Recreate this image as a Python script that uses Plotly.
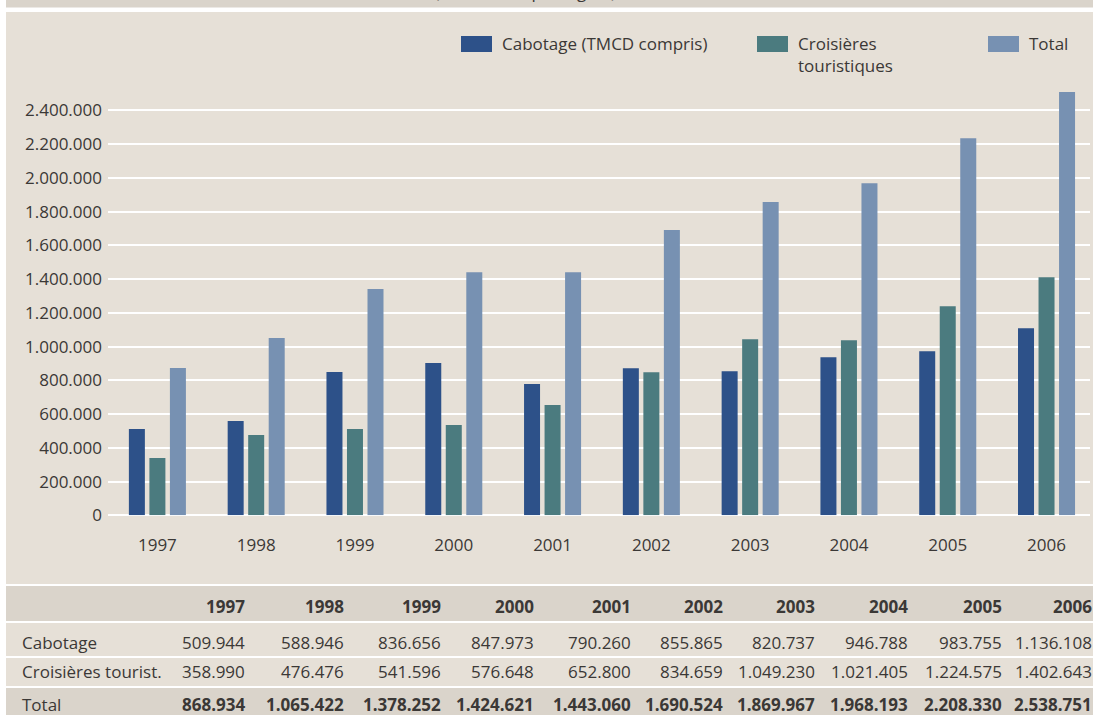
import plotly.graph_objects as go

# --- data -----------------------------------------------------------------
years = ["1997", "1998", "1999", "2000", "2001", "2002", "2003", "2004", "2005", "2006"]

# bar heights as drawn in the chart
cabotage = [511000, 559000, 849000, 902000, 778000, 871000, 854000, 937000, 972000, 1109000]
croisieres = [340000, 476000, 511000, 535000, 654000, 848000, 1043000, 1038000, 1239000, 1411000]
total = [873000, 1050000, 1341000, 1441000, 1441000, 1690000, 1856000, 1968000, 2235000, 2508000]

# values printed in the table
tab_cabotage = [509944, 588946, 836656, 847973, 790260, 855865, 820737, 946788, 983755, 1136108]
tab_croisieres = [358990, 476476, 541596, 576648, 652800, 834659, 1049230, 1021405, 1224575, 1402643]
tab_total = [868934, 1065422, 1378252, 1424621, 1443060, 1690524, 1869967, 1968193, 2208330, 2538751]
row_labels = ["Cabotage", "Croisières tourist.", "Total"]

series_names = ["Cabotage (TMCD compris)", "Croisières<br>touristiques", "Total"]
y_ticks = list(range(0, 2400001, 200000))

# --- style ----------------------------------------------------------------
W, H = 1093, 715
FONT = "Open Sans"
TXT = "#3b3836"
PANEL = "#e6e0d7"
DARK = "#dad4cb"
colors = ["#2d5189", "#4b7b7f", "#7791b2"]


def px(x):
    return x / W


def py(y):
    return 1 - y / H


def fmt(v):
    return f"{v:,}".replace(",", ".")


fig = go.Figure()
for name, vals, c in zip(series_names, [cabotage, croisieres, total], colors):
    fig.add_trace(go.Bar(x=years, y=vals, name=name, marker=dict(color=c, line=dict(width=0)),
                         showlegend=False))

shapes = []
annotations = []


def rect(x0, y0, x1, y1, color, layer="below"):
    shapes.append(dict(type="rect", xref="paper", yref="paper", x0=px(x0), x1=px(x1),
                       y0=py(y1), y1=py(y0), fillcolor=color, line=dict(width=0), layer=layer))


# background panels
rect(6, 0, W, 7.5, DARK)
rect(6, 12, W, 584, PANEL)

# cropped title at the very top
annotations.append(dict(x=px(333), y=py(-8.5), xref="paper", yref="paper", xanchor="left",
                        yanchor="middle", showarrow=False,
                        text=", 1997–2006 (nombre de passagers)",
                        font=dict(family=FONT, size=17, color=TXT)))

# legend (custom swatches)
leg_swatch_x = [461, 757, 988]
for i, name in enumerate(series_names):
    x0 = leg_swatch_x[i]
    rect(x0, 36, x0 + 31, 52, colors[i], layer="above")
    annotations.append(dict(x=px(x0 + 39), y=py(30), xref="paper", yref="paper",
                            xanchor="left", yanchor="top", align="left", showarrow=False,
                            text=name, font=dict(family=FONT, size=17, color=TXT)))

# table bands
rect(6, 586, W, 621, DARK)
rect(6, 623, W, 656, PANEL)
rect(6, 658, W, 686, PANEL)
rect(6, 688, W, H + 2, DARK)

col_right = [247, 346, 443, 536, 633, 725, 817, 910, 1004, 1094]
row_y = [642, 671, 704]
header_y = 606

for j, yr in enumerate(years):
    annotations.append(dict(x=px(col_right[j]), y=py(header_y), xref="paper", yref="paper",
                            xanchor="right", yanchor="middle", showarrow=False,
                            text=f"<b>{yr}</b>", font=dict(family=FONT, size=17, color=TXT)))
    for r, vals in enumerate([tab_cabotage, tab_croisieres, tab_total]):
        t = fmt(vals[j])
        if r == 2:
            t = f"<b>{t}</b>"
        annotations.append(dict(x=px(col_right[j]), y=py(row_y[r]), xref="paper", yref="paper",
                                xanchor="right", yanchor="middle", showarrow=False,
                                text=t, font=dict(family=FONT, size=17, color=TXT)))

for r, lab in enumerate(row_labels):
    annotations.append(dict(x=px(20), y=py(row_y[r]), xref="paper", yref="paper",
                            xanchor="left", yanchor="middle", showarrow=False,
                            text=lab, font=dict(family=FONT, size=17, color=TXT)))

fig.update_layout(
    width=W, height=H,
    margin=dict(l=0, r=0, t=0, b=0),
    paper_bgcolor="white",
    plot_bgcolor="rgba(0,0,0,0)",
    separators=",.",
    barmode="group",
    bargap=0.377,
    bargroupgap=0.22,
    font=dict(family=FONT, size=17, color=TXT),
    xaxis=dict(domain=[px(108), px(1090)], range=[-0.5, 9.44], showgrid=False,
               zeroline=False, showline=False, ticks="", ticklabelstandoff=18,
               tickfont=dict(family=FONT, size=17, color=TXT), automargin=False),
    yaxis=dict(domain=[py(515.3), py(85)], range=[0, 2550000], tickvals=y_ticks,
               tickformat=",d", showgrid=True, gridcolor="white", gridwidth=2,
               zeroline=True, zerolinecolor="white", zerolinewidth=2, showline=False,
               ticks="", ticklabelstandoff=5,
               tickfont=dict(family=FONT, size=17, color=TXT), automargin=False),
    shapes=shapes,
    annotations=annotations,
)

# drop the default page margin so the figure sits at the window's corner
fig.write_html(
    "out.html",
    config={"displayModeBar": False},
    post_script="document.body.style.margin='0';document.body.style.overflow='hidden';",
)
